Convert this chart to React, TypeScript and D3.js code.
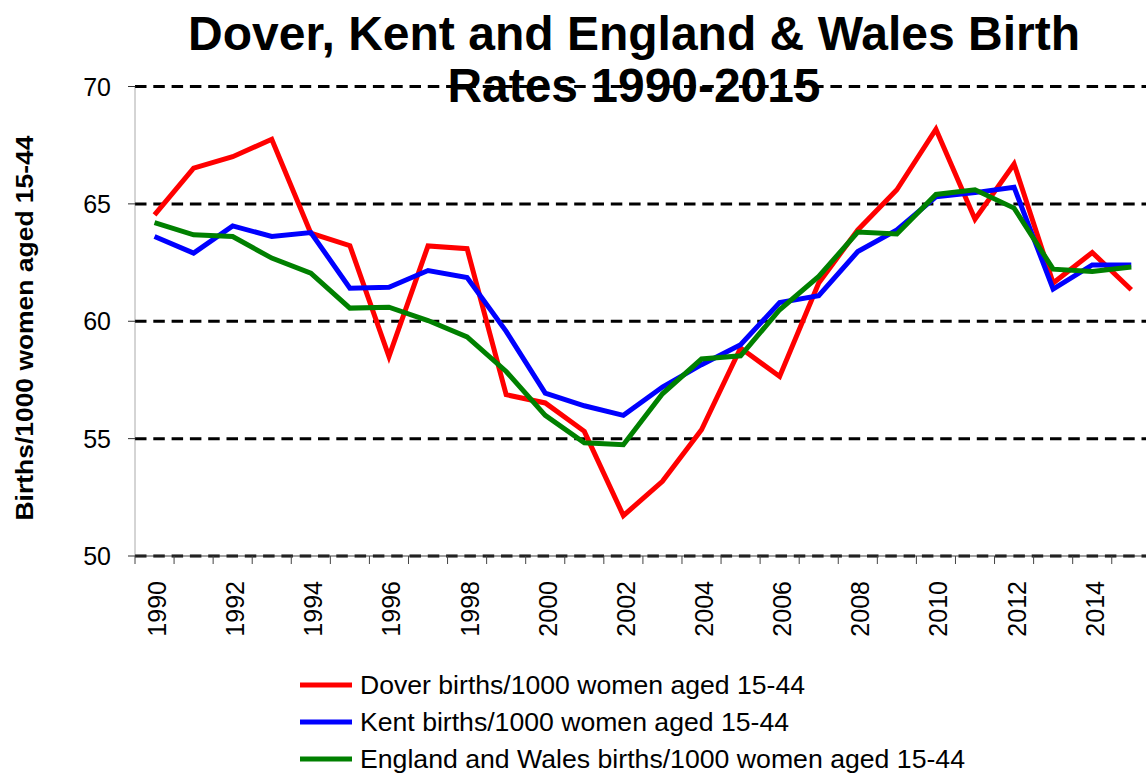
import React from "react";
import * as d3 from "d3";

const years = d3.range(1990, 2016).map(String);
const tickYears = years.filter((_, i) => i % 2 === 0);
const dover = [64.53, 66.52, 67.01, 67.75, 63.75, 63.22, 58.5, 63.21, 63.09, 56.87, 56.52, 55.31, 51.72, 53.18, 55.38, 58.86, 57.65, 61.63, 63.89, 65.6, 68.18, 64.35, 66.7, 61.63, 62.93, 61.34];
const kent = [63.61, 62.9, 64.06, 63.61, 63.78, 61.41, 61.45, 62.16, 61.86, 59.57, 56.94, 56.4, 55.99, 57.2, 58.15, 59.0, 60.8, 61.09, 62.97, 63.89, 65.3, 65.48, 65.71, 61.37, 62.4, 62.4];
const englandWales = [64.2, 63.68, 63.61, 62.69, 62.05, 60.56, 60.6, 60.03, 59.33, 57.86, 55.99, 54.82, 54.74, 56.91, 58.39, 58.53, 60.49, 61.91, 63.8, 63.72, 65.4, 65.6, 64.82, 62.22, 62.12, 62.31];
const yTicks = [50, 55, 60, 65, 70];
const seriesNames = [
  "Dover births/1000 women aged 15-44",
  "Kent births/1000 women aged 15-44",
  "England and Wales births/1000 women aged 15-44",
];
const seriesColors = ["#ff0000", "#0000ff", "#008000"];
const legendWidths = [445, 429, 605];

export default function App() {
  const W = 1146, H = 776;
  const left = 135, bw = 39.07;
  const x = d3.scaleBand<string>().domain(years).range([left, left + bw * years.length]);
  const y = d3.scaleLinear().domain([50, 70]).range([556, 86.5]);
  const cx = (yr: string) => (x(yr) as number) + x.bandwidth() / 2;
  const line = d3
    .line<number>()
    .x((_, i) => cx(years[i]))
    .y((d) => y(d));
  const allSeries = [dover, kent, englandWales];
  const font = "'Liberation Sans', Arial, Helvetica, sans-serif";

  return (
    <svg width={W} height={H} style={{ position: "absolute", left: 0, top: 0, background: "#fff" }} fontFamily={font}>
      <rect width={W} height={H} fill="#fff" />
      {/* title */}
      <text x={634} y={50} textAnchor="middle" fontSize={48} fontWeight="bold" textLength={892} lengthAdjust="spacingAndGlyphs">
        Dover, Kent and England &amp; Wales Birth
      </text>
      <text x={634} y={102} textAnchor="middle" fontSize={48} fontWeight="bold" textLength={373} lengthAdjust="spacingAndGlyphs">
        Rates 1990-2015
      </text>
      {/* gridlines */}
      {yTicks.map((t) => (
        <line key={"g" + t} x1={left} x2={W} y1={y(t)} y2={y(t)} stroke="#000" strokeWidth={3} strokeDasharray="11.5,6.8" />
      ))}
      {/* y axis */}
      <line x1={left} x2={left} y1={y(70)} y2={y(50)} stroke="#555" strokeWidth={1} strokeDasharray="1,1" />
      {yTicks.map((t) => (
        <g key={"yt" + t}>
          <line x1={left - 7} x2={left} y1={y(t)} y2={y(t)} stroke="#333" strokeWidth={1} />
          <text x={111} y={y(t)} dy="0.36em" textAnchor="end" fontSize={25} fill="#000">
            {t}
          </text>
        </g>
      ))}
      <text
        transform={`translate(33,${328}) rotate(-90)`}
        textAnchor="middle"
        fontSize={24}
        fontWeight="bold"
        textLength={385}
        lengthAdjust="spacingAndGlyphs"
      >
        Births/1000 women aged 15-44
      </text>
      {/* x axis */}
      <line x1={left} x2={W} y1={y(50)} y2={y(50)} stroke="#444" strokeWidth={1} />
      {years.map((yr) => (
        <line key={"xt" + yr} x1={x(yr) as number} x2={x(yr) as number} y1={y(50)} y2={y(50) + 8} stroke="#444" strokeWidth={1} />
      ))}
      {tickYears.map((yr) => (
        <text
          key={"xl" + yr}
          transform={`translate(${cx(yr) + 2.5},581) rotate(-90)`}
          dy="0.36em"
          textAnchor="end"
          fontSize={25}
        >
          {yr}
        </text>
      ))}
      {/* series */}
      {allSeries.map((s, i) => (
        <path key={"s" + i} d={line(s) || ""} fill="none" stroke={seriesColors[i]} strokeWidth={5} strokeLinejoin="miter" strokeMiterlimit={10} />
      ))}
      {/* legend */}
      {seriesNames.map((n, i) => {
        const ly = 685 + i * 37;
        return (
          <g key={"lg" + i}>
            <line x1={300} x2={352} y1={ly} y2={ly} stroke={seriesColors[i]} strokeWidth={5} />
            <text x={360} y={ly} dy="0.36em" fontSize={25} textLength={legendWidths[i]} lengthAdjust="spacingAndGlyphs">
              {n}
            </text>
          </g>
        );
      })}
    </svg>
  );
}
